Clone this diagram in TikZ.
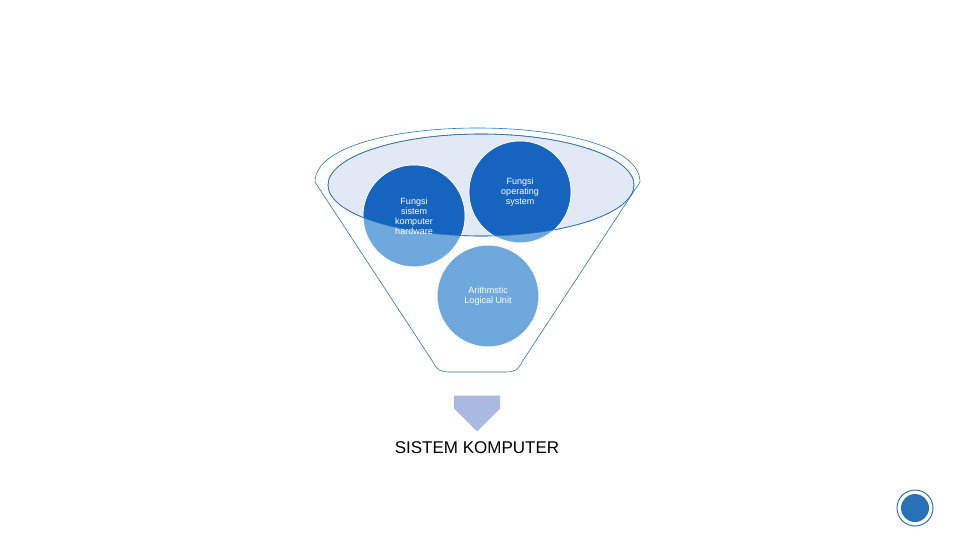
\documentclass[tikz,border=0pt]{standalone}
\usepackage{fontspec}
\setmainfont{Liberation Sans}
\usetikzlibrary{shapes.arrows}
\definecolor{dk}{HTML}{1565C0}
\definecolor{lt}{HTML}{6FA8DC}
\definecolor{el}{HTML}{E3E8F5}
\definecolor{ln}{HTML}{2E74B5}
\definecolor{ar}{HTML}{A9B9E0}
\tikzset{circ/.style={circle,draw=white,line width=1pt,minimum size=102pt,inner sep=0pt,align=center,text=white,font=\fontsize{9}{10}\selectfont}}
\begin{document}
\begin{tikzpicture}[x=1pt,y=-1pt]
\useasboundingbox (0,0) rectangle (960,540);
% funnel outline
\draw[ln,line width=0.6pt] (315,182) .. controls (315,110) and (640,110) .. (640,182)
  -- (522,362) .. controls (518,370) and (515,372) .. (505,372) -- (450,372)
  .. controls (440,372) and (437,370) .. (433,362) -- cycle;
\draw[ln,line width=0.6pt,fill=el] (481,185) ellipse [x radius=153, y radius=51];
% circles light
\node[circ,fill=lt] (hw) at (414,216) {};
\node[circ,fill=lt] (os) at (520,192) {};
\node[circ,fill=lt] (alu) at (488,296) {Arithmstic\\Logical Unit};
\begin{scope}
\clip (481,185) ellipse [x radius=153, y radius=51];
\fill[dk] (hw.center) circle (50.5);
\fill[dk] (os.center) circle (50.5);
\end{scope}
\draw[ln,line width=0.6pt] (481,185) ellipse [x radius=153, y radius=51];
\node[circ,draw=none] at (hw) {Fungsi\\sistem\\komputer\\hardware};
\node[circ,draw=none] at (os) {Fungsi\\operating\\system};
% arrow
\node[single arrow,shape border rotate=270,fill=ar,minimum width=46pt,single arrow head extend=0pt,minimum height=36pt,inner sep=0pt] (arr) at (477,402) {};
\node[font=\fontsize{17}{20}\selectfont] (t) at (477,448) {SISTEM KOMPUTER};
% icon
\node[circle,draw=ln,line width=1pt,minimum size=36pt,inner sep=0pt] (ic) at (915,508) {};
\fill[ln!80!dk] (ic.center) circle (14);
\end{tikzpicture}
\end{document}
